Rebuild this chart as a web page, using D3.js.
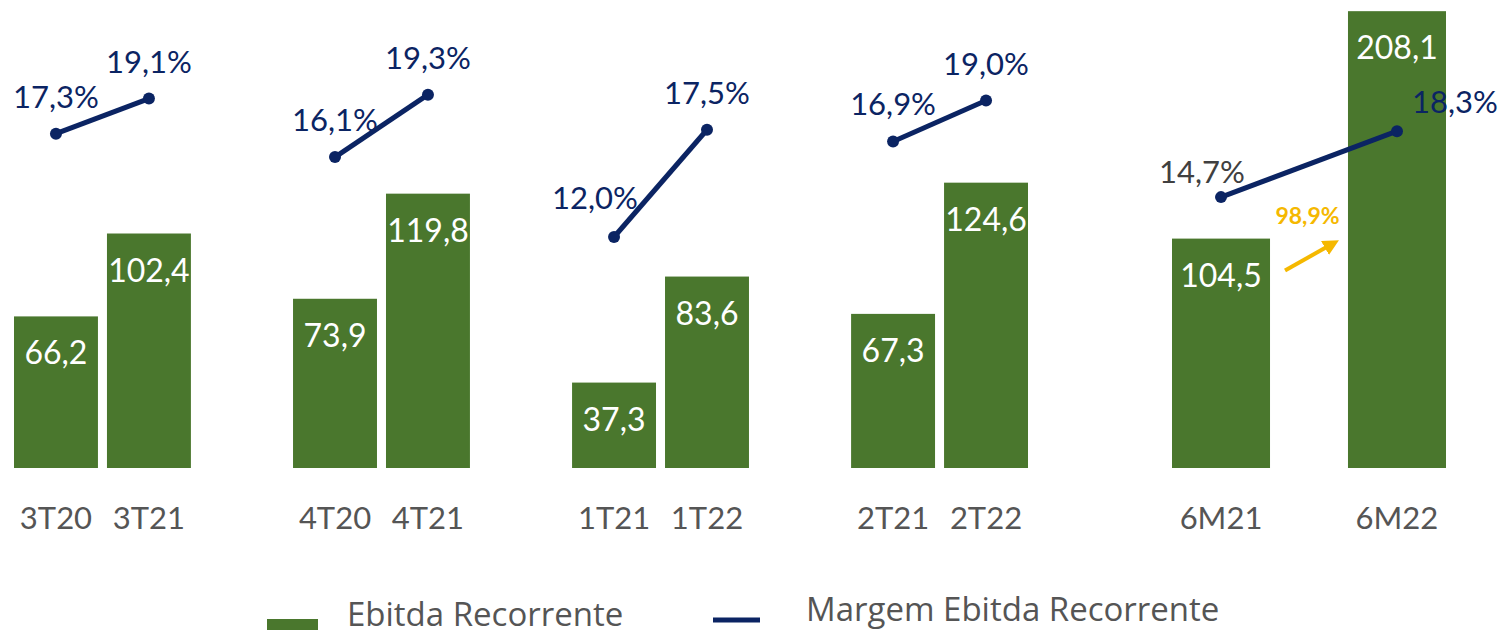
<!DOCTYPE html>
<html>
<head>
<meta charset="utf-8">
<script src="https://cdn.jsdelivr.net/npm/d3@7"></script>
<style>
  body { margin: 0; background: #fff; }
  svg text { font-family: "Lato", "Open Sans", sans-serif; }
  svg text.leg { font-family: "Open Sans", "Lato", sans-serif; }
</style>
</head>
<body>
<svg id="chart"></svg>
<script>
// quarterly comparisons (previous year vs current year)
const quarterGroups = ["3T", "4T", "1T", "2T"];
const prevLabels = ["3T20", "4T20", "1T21", "2T21"];
const currLabels = ["3T21", "4T21", "1T22", "2T22"];
const prevEbitda = [66.2, 73.9, 37.3, 67.3];
const currEbitda = [102.4, 119.8, 83.6, 124.6];
const prevMargin = [17.3, 16.1, 12.0, 16.9];
const currMargin = [19.1, 19.3, 17.5, 19.0];

// semester comparison
const semLabels = ["6M21", "6M22"];
const semEbitda = [104.5, 208.1];
const semMargin = [14.7, 18.3];
const semGrowth = "98,9%";

const green = "#4a772d", navy = "#0b2463", gray = "#555555", yellow = "#f5b800";
const fmt = v => d3.format(".1f")(v).replace(".", ",");

const width = 1503, height = 630;
const svg = d3.select("#chart").attr("width", width).attr("height", height);

// Define the scales
const xGroup = d3.scaleBand().domain(quarterGroups).range([14, 1028]).paddingInner(0.366).paddingOuter(0);
const xInner = d3.scaleBand().domain([0, 1]).range([0, xGroup.bandwidth()]).paddingInner(0.097).paddingOuter(0);
const xSem = d3.scaleBand().domain(semLabels).range([1172, 1446]).paddingInner(0.443).paddingOuter(0);

const yBar = d3.scaleLinear().domain([0, 200]).range([468, 10]);
const ySemBar = d3.scaleLinear().domain([0, 210]).range([468, 7]);
const yMargin = d3.scaleLinear().domain([0, 20]).range([471, 81]);
const ySemMargin = d3.scaleLinear().domain([0, 20]).range([466.5, 100]);

// flatten into bar records
const bars = [];
quarterGroups.forEach((g, i) => {
  bars.push({ label: prevLabels[i], v: prevEbitda[i], m: prevMargin[i],
    x: xGroup(g) + xInner(0), w: xInner.bandwidth(), y: yBar, ym: yMargin, g });
  bars.push({ label: currLabels[i], v: currEbitda[i], m: currMargin[i],
    x: xGroup(g) + xInner(1), w: xInner.bandwidth(), y: yBar, ym: yMargin, g });
});
semLabels.forEach((l, i) => {
  bars.push({ label: l, v: semEbitda[i], m: semMargin[i],
    x: xSem(l), w: xSem.bandwidth(), y: ySemBar, ym: ySemMargin, g: "6M" });
});

// Draw the bars
svg.selectAll("rect.bar")
  .data(bars)
  .enter()
  .append("rect")
  .attr("class", "bar")
  .attr("x", d => d.x)
  .attr("y", d => d.y(d.v))
  .attr("width", d => d.w)
  .attr("height", d => d.y(0) - d.y(d.v))
  .attr("fill", green);

// values inside bars
svg.selectAll("text.val")
  .data(bars)
  .enter()
  .append("text")
  .attr("class", "val")
  .attr("x", d => d.x + d.w / 2)
  .attr("y", d => d.y(d.v) + 48)
  .attr("text-anchor", "middle")
  .attr("fill", "#fff")
  .style("font-size", "32px")
  .text(d => fmt(d.v));

// category labels
svg.selectAll("text.cat")
  .data(bars)
  .enter()
  .append("text")
  .attr("class", "cat")
  .attr("x", d => d.x + d.w / 2)
  .attr("y", 529)
  .attr("text-anchor", "middle")
  .attr("fill", gray)
  .style("font-size", "31px")
  .text(d => d.label);

// margin lines, one short segment per group
const groups = d3.groups(bars, d => d.g);
const line = d3.line().x(d => d.x + d.w / 2).y(d => d.ym(d.m));

svg.selectAll("path.margin")
  .data(groups)
  .enter()
  .append("path")
  .attr("class", "margin")
  .attr("d", d => line(d[1]))
  .attr("fill", "none")
  .attr("stroke", navy)
  .attr("stroke-width", 5);

svg.selectAll("circle.dot")
  .data(bars)
  .enter()
  .append("circle")
  .attr("class", "dot")
  .attr("cx", d => d.x + d.w / 2)
  .attr("cy", d => d.ym(d.m))
  .attr("r", 6)
  .attr("fill", navy);

// margin labels (small nudges for a few of them)
const labelNudge = { "6M21": { dx: -19, dy: -14, anchor: "middle", color: "#404040" },
                     "6M22": { dx: 15, dy: -18, anchor: "start", color: navy },
                     "1T21": { dx: -19, dy: -28, anchor: "middle", color: navy } };
svg.selectAll("text.pct")
  .data(bars)
  .enter()
  .append("text")
  .attr("class", "pct")
  .each(function (d) {
    const n = labelNudge[d.label] || { dx: 0, dy: -26, anchor: "middle", color: navy };
    d3.select(this)
      .attr("x", d.x + d.w / 2 + n.dx)
      .attr("y", d.ym(d.m) + n.dy)
      .attr("text-anchor", n.anchor)
      .attr("fill", n.color);
  })
  .style("font-size", "31px")
  .text(d => fmt(d.m) + "%");

// growth arrow between the semesters
const ax0 = xSem("6M21") + xSem.bandwidth() + 15;
const ax1 = xSem("6M22") - 10;
svg.append("defs").append("marker")
  .attr("id", "arrow")
  .attr("viewBox", "0 0 10 10")
  .attr("refX", 5).attr("refY", 5)
  .attr("markerWidth", 4).attr("markerHeight", 4)
  .attr("orient", "auto")
  .append("path")
  .attr("d", "M0,0 L10,5 L0,10 z")
  .attr("fill", yellow);
svg.append("line")
  .attr("x1", ax0).attr("y1", ySemBar(90))
  .attr("x2", ax1 - 6).attr("y2", ySemBar(102))
  .attr("stroke", yellow)
  .attr("stroke-width", 4)
  .attr("marker-end", "url(#arrow)");
svg.append("text")
  .attr("x", (ax0 + ax1) / 2 - 4)
  .attr("y", ySemBar(111))
  .attr("text-anchor", "middle")
  .attr("fill", yellow)
  .style("font-size", "23px")
  .style("font-weight", "bold")
  .text(semGrowth);

// legend
const legend = svg.append("g");
legend.append("rect").attr("x", 267).attr("y", 619).attr("width", 51).attr("height", 14).attr("fill", green);
legend.append("text").attr("class", "leg").attr("x", 347).attr("y", 626).attr("fill", gray).style("font-size", "33px").text("Ebitda Recorrente");
legend.append("line").attr("x1", 713).attr("x2", 760).attr("y1", 620).attr("y2", 620).attr("stroke", navy).attr("stroke-width", 5);
legend.append("text").attr("class", "leg").attr("x", 806).attr("y", 621).attr("fill", gray).style("font-size", "33px").text("Margem Ebitda Recorrente");
</script>
</body>
</html>
